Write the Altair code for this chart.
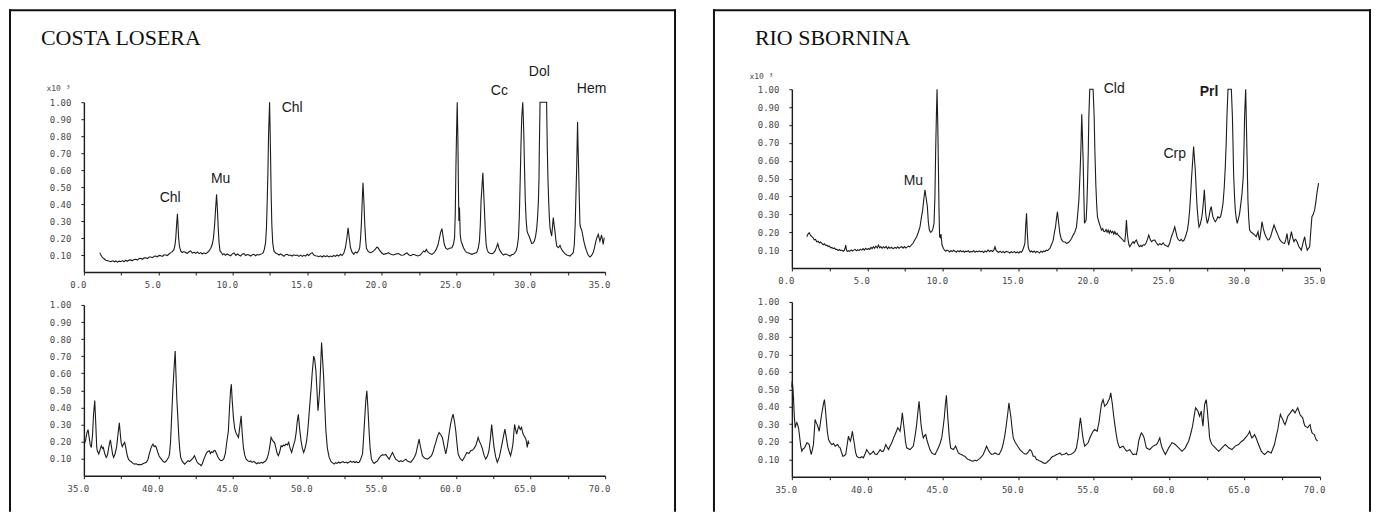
import altair as alt
import pandas as pd

PANEL_TITLES = ["COSTA LOSERA", "RIO SBORNINA"]
Y_TICKS = [0.1, 0.2, 0.3, 0.4, 0.5, 0.6, 0.7, 0.8, 0.9, 1.0]
X_TICKS_LOW = [0, 2.5, 5, 7.5, 10, 12.5, 15, 17.5, 20, 22.5, 25, 27.5, 30, 32.5, 35]
X_TICKS_HIGH = [35, 37.5, 40, 42.5, 45, 47.5, 50, 52.5, 55, 57.5, 60, 62.5, 65, 67.5, 70]
EXP_LABEL = "x10 ³"

# ---- Costa Losera, 2theta 0-35 ----
CL_TOP = [(1.07,0.114),(1.15,0.098),(1.25,0.084),(1.36,0.078),(1.47,0.069),(1.6,0.066),(1.72,0.063),(1.81,0.061),(1.95,0.066),(2.05,0.06),(2.14,0.065),(2.25,0.058),(2.36,0.064),(2.48,0.061),(2.6,0.067),(2.7,0.06),(2.81,0.069),(2.92,0.063),(3.03,0.07),(3.15,0.071),(3.26,0.066),(3.37,0.074),(3.49,0.075),(3.6,0.07),(3.71,0.079),(3.82,0.08),(3.94,0.075),(4.05,0.083),(4.16,0.084),(4.27,0.079),(4.38,0.088),(4.49,0.088),(4.6,0.084),(4.72,0.093),(4.83,0.094),(4.94,0.089),(5.05,0.098),(5.16,0.096),(5.27,0.092),(5.38,0.101),(5.5,0.10),(5.6,0.097),(5.72,0.106),(5.83,0.114),(5.95,0.12),(6.05,0.133),(6.12,0.16),(6.17,0.20),(6.22,0.27),(6.28,0.343),(6.32,0.28),(6.36,0.20),(6.42,0.15),(6.5,0.124),(6.6,0.115),(6.72,0.12),(6.84,0.114),(6.95,0.11),(7.06,0.119),(7.17,0.124),(7.28,0.112),(7.4,0.116),(7.51,0.11),(7.62,0.118),(7.73,0.108),(7.84,0.114),(7.95,0.106),(8.06,0.113),(8.18,0.108),(8.3,0.115),(8.4,0.124),(8.52,0.14),(8.62,0.163),(8.7,0.2),(8.78,0.28),(8.85,0.38),(8.91,0.457),(8.97,0.36),(9.03,0.241),(9.08,0.17),(9.14,0.124),(9.25,0.112),(9.32,0.102),(9.41,0.108),(9.5,0.098),(9.62,0.106),(9.74,0.10),(9.85,0.095),(9.97,0.107),(10.08,0.112),(10.2,0.098),(10.3,0.106),(10.41,0.10),(10.52,0.094),(10.63,0.105),(10.75,0.108),(10.86,0.097),(10.97,0.103),(11.08,0.10),(11.2,0.094),(11.31,0.101),(11.42,0.104),(11.53,0.096),(11.64,0.103),(11.75,0.10),(11.86,0.104),(11.96,0.108),(12.04,0.114),(12.12,0.135),(12.2,0.173),(12.26,0.26),(12.31,0.418),(12.36,0.6),(12.4,0.81),(12.47,1.0),(12.5,0.86),(12.53,0.71),(12.57,0.48),(12.62,0.28),(12.68,0.17),(12.76,0.124),(12.87,0.112),(12.98,0.108),(13.1,0.1),(13.2,0.106),(13.32,0.10),(13.43,0.093),(13.54,0.102),(13.65,0.104),(13.76,0.097),(13.88,0.1),(13.99,0.094),(14.1,0.101),(14.21,0.097),(14.32,0.10),(14.44,0.092),(14.55,0.099),(14.66,0.092),(14.77,0.098),(14.88,0.094),(14.99,0.104),(15.1,0.097),(15.22,0.108),(15.33,0.114),(15.44,0.1),(15.55,0.096),(15.66,0.094),(15.77,0.09),(15.88,0.095),(16.0,0.088),(16.11,0.096),(16.22,0.09),(16.33,0.096),(16.45,0.089),(16.56,0.094),(16.67,0.09),(16.78,0.097),(16.89,0.092),(17.0,0.10),(17.11,0.094),(17.23,0.104),(17.34,0.097),(17.45,0.11),(17.56,0.143),(17.66,0.2),(17.74,0.26),(17.82,0.2),(17.9,0.143),(18.0,0.118),(18.12,0.104),(18.23,0.118),(18.34,0.112),(18.45,0.125),(18.52,0.143),(18.58,0.2),(18.63,0.28),(18.69,0.42),(18.74,0.525),(18.8,0.42),(18.86,0.28),(18.92,0.19),(18.97,0.139),(19.1,0.12),(19.23,0.114),(19.35,0.118),(19.46,0.124),(19.57,0.135),(19.68,0.147),(19.77,0.14),(19.86,0.127),(20.0,0.112),(20.13,0.104),(20.3,0.108),(20.46,0.114),(20.6,0.104),(20.8,0.10),(20.95,0.106),(21.13,0.108),(21.3,0.099),(21.47,0.1),(21.58,0.107),(21.69,0.112),(21.83,0.1),(21.96,0.096),(22.1,0.104),(22.25,0.1),(22.42,0.094),(22.59,0.1),(22.7,0.112),(22.81,0.124),(22.9,0.118),(22.99,0.133),(23.07,0.12),(23.15,0.114),(23.26,0.108),(23.37,0.104),(23.5,0.112),(23.66,0.133),(23.78,0.16),(23.88,0.202),(23.96,0.235),(24.04,0.255),(24.12,0.21),(24.2,0.163),(24.3,0.14),(24.42,0.133),(24.55,0.14),(24.71,0.143),(24.82,0.165),(24.89,0.202),(24.94,0.35),(24.98,0.614),(25.03,0.85),(25.07,1.0),(25.11,0.8),(25.15,0.5),(25.18,0.3),(25.22,0.38),(25.27,0.22),(25.33,0.18),(25.4,0.165),(25.49,0.143),(25.6,0.125),(25.71,0.114),(25.88,0.11),(26.05,0.104),(26.2,0.109),(26.38,0.114),(26.48,0.14),(26.56,0.182),(26.62,0.28),(26.67,0.418),(26.73,0.5),(26.79,0.584),(26.84,0.48),(26.9,0.359),(26.95,0.25),(27.01,0.163),(27.08,0.13),(27.17,0.114),(27.28,0.11),(27.39,0.108),(27.5,0.112),(27.61,0.124),(27.7,0.145),(27.79,0.167),(27.87,0.14),(27.95,0.124),(28.06,0.11),(28.17,0.10),(28.28,0.106),(28.39,0.104),(28.5,0.098),(28.62,0.094),(28.73,0.101),(28.84,0.104),(28.93,0.112),(29.02,0.124),(29.1,0.15),(29.18,0.202),(29.24,0.33),(29.29,0.516),(29.35,0.75),(29.4,0.91),(29.47,1.0),(29.51,0.9),(29.54,0.81),(29.59,0.6),(29.64,0.418),(29.7,0.3),(29.76,0.241),(29.82,0.225),(29.89,0.212),(29.98,0.19),(30.07,0.167),(30.16,0.17),(30.25,0.182),(30.33,0.21),(30.41,0.26),(30.47,0.33),(30.52,0.418),(30.56,0.55),(30.58,0.712),(30.61,0.88),(30.63,1.0),(30.85,1.0),(31.07,1.0),(31.09,0.88),(31.12,0.712),(31.16,0.55),(31.21,0.418),(31.25,0.33),(31.3,0.26),(31.36,0.23),(31.41,0.212),(31.46,0.26),(31.52,0.32),(31.57,0.28),(31.63,0.241),(31.69,0.19),(31.75,0.153),(31.86,0.143),(31.97,0.157),(32.06,0.135),(32.15,0.124),(32.28,0.11),(32.42,0.10),(32.53,0.097),(32.64,0.094),(32.75,0.104),(32.86,0.114),(32.93,0.16),(32.99,0.28),(33.04,0.45),(33.09,0.614),(33.12,0.75),(33.15,0.884),(33.18,0.75),(33.22,0.614),(33.26,0.45),(33.31,0.28),(33.36,0.26),(33.42,0.251),(33.5,0.215),(33.57,0.182),(33.66,0.15),(33.75,0.124),(33.86,0.1),(33.98,0.088),(34.09,0.097),(34.2,0.114),(34.29,0.145),(34.38,0.182),(34.46,0.205),(34.54,0.222),(34.6,0.2),(34.65,0.182),(34.71,0.2),(34.76,0.218),(34.82,0.19),(34.87,0.163),(34.9,0.18),(34.94,0.202)]

# ---- Costa Losera, 2theta 35-70 ----
CL_BOT = [(35.05,0.19),(35.12,0.21),(35.2,0.25),(35.28,0.27),(35.36,0.22),(35.43,0.18),(35.5,0.165),(35.58,0.24),(35.65,0.36),(35.73,0.44),(35.8,0.3),(35.86,0.17),(35.9,0.146),(36.0,0.127),(36.08,0.15),(36.17,0.175),(36.25,0.16),(36.3,0.165),(36.4,0.13),(36.5,0.107),(36.58,0.12),(36.66,0.16),(36.72,0.19),(36.78,0.21),(36.85,0.17),(36.93,0.125),(37.0,0.107),(37.1,0.13),(37.2,0.17),(37.3,0.25),(37.38,0.31),(37.44,0.25),(37.5,0.195),(37.58,0.17),(37.66,0.185),(37.74,0.195),(37.82,0.16),(37.92,0.115),(38.0,0.095),(38.07,0.088),(38.2,0.08),(38.3,0.072),(38.4,0.068),(38.52,0.07),(38.62,0.064),(38.74,0.066),(38.85,0.064),(38.96,0.07),(39.08,0.074),(39.2,0.078),(39.3,0.095),(39.4,0.13),(39.5,0.16),(39.57,0.175),(39.64,0.185),(39.72,0.17),(39.79,0.175),(39.86,0.166),(39.95,0.14),(40.05,0.115),(40.2,0.097),(40.3,0.085),(40.4,0.078),(40.5,0.083),(40.6,0.095),(40.7,0.11),(40.75,0.127),(40.82,0.2),(40.9,0.36),(40.97,0.5),(41.05,0.62),(41.13,0.73),(41.18,0.6),(41.24,0.45),(41.31,0.34),(41.38,0.22),(41.44,0.15),(41.5,0.107),(41.6,0.085),(41.76,0.068),(41.9,0.08),(42.0,0.088),(42.1,0.083),(42.2,0.092),(42.3,0.1),(42.43,0.117),(42.5,0.1),(42.6,0.08),(42.7,0.07),(42.8,0.066),(42.87,0.058),(42.95,0.07),(43.05,0.095),(43.12,0.11),(43.2,0.127),(43.3,0.14),(43.43,0.146),(43.5,0.13),(43.58,0.14),(43.66,0.136),(43.75,0.148),(43.82,0.146),(43.9,0.13),(44.0,0.11),(44.1,0.095),(44.2,0.088),(44.3,0.09),(44.4,0.1),(44.5,0.13),(44.6,0.2),(44.7,0.26),(44.78,0.4),(44.85,0.5),(44.9,0.536),(44.96,0.44),(45.04,0.34),(45.12,0.28),(45.2,0.253),(45.28,0.24),(45.38,0.224),(45.46,0.28),(45.56,0.35),(45.62,0.26),(45.71,0.166),(45.8,0.12),(45.9,0.097),(46.0,0.088),(46.1,0.082),(46.2,0.086),(46.3,0.078),(46.4,0.084),(46.5,0.077),(46.6,0.07),(46.7,0.076),(46.8,0.072),(46.9,0.078),(47.0,0.074),(47.1,0.08),(47.2,0.086),(47.3,0.1),(47.4,0.13),(47.5,0.18),(47.57,0.224),(47.65,0.21),(47.72,0.2),(47.8,0.195),(47.9,0.16),(47.98,0.13),(48.06,0.117),(48.15,0.14),(48.24,0.175),(48.32,0.17),(48.4,0.18),(48.48,0.175),(48.57,0.185),(48.66,0.18),(48.75,0.195),(48.85,0.16),(48.95,0.136),(49.05,0.17),(49.17,0.205),(49.25,0.25),(49.33,0.32),(49.4,0.36),(49.48,0.28),(49.58,0.205),(49.67,0.16),(49.76,0.136),(49.85,0.16),(49.95,0.2),(50.03,0.26),(50.12,0.36),(50.2,0.45),(50.25,0.5),(50.33,0.6),(50.43,0.70),(50.5,0.68),(50.58,0.614),(50.65,0.5),(50.72,0.38),(50.77,0.43),(50.83,0.497),(50.9,0.65),(50.96,0.78),(51.03,0.68),(51.1,0.575),(51.18,0.4),(51.25,0.263),(51.35,0.16),(51.47,0.107),(51.6,0.082),(51.7,0.075),(51.8,0.068),(51.9,0.076),(52.0,0.072),(52.1,0.08),(52.2,0.074),(52.3,0.078),(52.4,0.082),(52.5,0.076),(52.6,0.08),(52.7,0.074),(52.8,0.079),(52.9,0.085),(53.0,0.078),(53.1,0.083),(53.2,0.077),(53.3,0.082),(53.4,0.076),(53.5,0.08),(53.6,0.1),(53.71,0.127),(53.78,0.22),(53.86,0.34),(53.93,0.44),(54.0,0.497),(54.07,0.4),(54.15,0.26),(54.22,0.16),(54.31,0.097),(54.4,0.08),(54.49,0.072),(54.6,0.08),(54.7,0.085),(54.8,0.1),(54.92,0.115),(55.05,0.123),(55.15,0.12),(55.27,0.125),(55.38,0.11),(55.5,0.097),(55.6,0.115),(55.72,0.136),(55.83,0.115),(55.94,0.097),(56.05,0.09),(56.17,0.082),(56.28,0.088),(56.4,0.082),(56.5,0.09),(56.62,0.097),(56.72,0.086),(56.84,0.082),(56.95,0.078),(57.05,0.09),(57.17,0.105),(57.29,0.127),(57.4,0.17),(57.51,0.214),(57.6,0.17),(57.73,0.117),(57.85,0.105),(57.95,0.1),(58.07,0.097),(58.2,0.105),(58.34,0.117),(58.45,0.14),(58.54,0.17),(58.63,0.195),(58.74,0.23),(58.85,0.253),(58.96,0.24),(59.07,0.224),(59.17,0.18),(59.3,0.127),(59.4,0.17),(59.52,0.244),(59.62,0.3),(59.72,0.34),(59.79,0.36),(59.88,0.32),(59.97,0.263),(60.05,0.19),(60.13,0.127),(60.27,0.1),(60.42,0.088),(60.56,0.11),(60.71,0.136),(60.85,0.13),(60.98,0.146),(61.1,0.15),(61.2,0.16),(61.31,0.175),(61.4,0.2),(61.47,0.224),(61.56,0.2),(61.65,0.185),(61.75,0.16),(61.87,0.12),(61.98,0.097),(62.1,0.115),(62.2,0.146),(62.3,0.22),(62.38,0.30),(62.46,0.23),(62.54,0.166),(62.65,0.11),(62.76,0.078),(62.9,0.11),(63.03,0.166),(63.15,0.22),(63.27,0.273),(63.37,0.22),(63.47,0.166),(63.56,0.14),(63.65,0.117),(63.74,0.15),(63.81,0.185),(63.87,0.25),(63.92,0.30),(63.99,0.27),(64.06,0.244),(64.13,0.27),(64.21,0.29),(64.3,0.27),(64.39,0.283),(64.47,0.25),(64.55,0.234),(64.62,0.225),(64.68,0.214),(64.73,0.19),(64.77,0.166),(64.81,0.19),(64.84,0.205),(64.87,0.19),(64.9,0.185)]

# ---- Rio Sbornina, 2theta 0-35 ----
RS_TOP = [(0.99,0.175),(1.07,0.19),(1.15,0.197),(1.24,0.182),(1.32,0.175),(1.4,0.17),(1.48,0.158),(1.57,0.16),(1.65,0.147),(1.74,0.15),(1.82,0.14),(1.9,0.145),(1.99,0.138),(2.08,0.13),(2.16,0.135),(2.24,0.126),(2.32,0.128),(2.4,0.12),(2.48,0.123),(2.57,0.113),(2.65,0.115),(2.74,0.108),(2.82,0.112),(2.9,0.104),(2.98,0.104),(3.07,0.098),(3.15,0.103),(3.23,0.097),(3.31,0.10),(3.4,0.094),(3.48,0.099),(3.53,0.112),(3.57,0.128),(3.62,0.1),(3.68,0.092),(3.75,0.097),(3.84,0.093),(3.93,0.101),(4.02,0.095),(4.1,0.1),(4.19,0.104),(4.28,0.096),(4.36,0.102),(4.45,0.097),(4.54,0.105),(4.63,0.10),(4.72,0.108),(4.8,0.1),(4.89,0.11),(4.98,0.103),(5.07,0.109),(5.16,0.104),(5.24,0.115),(5.32,0.108),(5.4,0.119),(5.48,0.11),(5.57,0.122),(5.66,0.112),(5.74,0.128),(5.82,0.113),(5.9,0.12),(5.98,0.11),(6.07,0.119),(6.16,0.112),(6.25,0.121),(6.34,0.108),(6.42,0.118),(6.5,0.11),(6.6,0.116),(6.7,0.108),(6.84,0.115),(6.93,0.11),(7.02,0.118),(7.1,0.11),(7.19,0.116),(7.28,0.119),(7.37,0.111),(7.46,0.12),(7.55,0.112),(7.63,0.117),(7.72,0.122),(7.82,0.118),(7.93,0.13),(8.05,0.141),(8.16,0.16),(8.27,0.175),(8.38,0.2),(8.49,0.23),(8.58,0.28),(8.67,0.325),(8.75,0.39),(8.82,0.437),(8.9,0.39),(8.98,0.343),(9.04,0.26),(9.11,0.212),(9.19,0.2),(9.27,0.203),(9.35,0.22),(9.42,0.25),(9.48,0.4),(9.53,0.66),(9.58,0.86),(9.62,1.0),(9.67,0.8),(9.71,0.57),(9.75,0.33),(9.79,0.175),(9.84,0.17),(9.88,0.19),(9.95,0.13),(10.04,0.109),(10.12,0.1),(10.2,0.094),(10.28,0.1),(10.37,0.096),(10.46,0.09),(10.55,0.098),(10.63,0.092),(10.72,0.099),(10.81,0.094),(10.9,0.088),(10.99,0.097),(11.08,0.091),(11.17,0.098),(11.26,0.09),(11.35,0.095),(11.44,0.088),(11.52,0.094),(11.6,0.091),(11.69,0.096),(11.78,0.088),(11.87,0.093),(11.96,0.09),(12.05,0.097),(12.14,0.088),(12.23,0.094),(12.32,0.09),(12.41,0.096),(12.5,0.09),(12.6,0.094),(12.7,0.087),(12.8,0.095),(12.9,0.09),(13.0,0.10),(13.1,0.092),(13.2,0.098),(13.3,0.092),(13.38,0.1),(13.46,0.119),(13.54,0.097),(13.62,0.092),(13.7,0.087),(13.8,0.094),(13.9,0.086),(14.0,0.092),(14.1,0.085),(14.2,0.093),(14.34,0.09),(14.44,0.084),(14.54,0.091),(14.64,0.086),(14.74,0.093),(14.84,0.085),(14.94,0.09),(15.04,0.084),(15.13,0.092),(15.22,0.088),(15.3,0.1),(15.38,0.12),(15.44,0.137),(15.5,0.24),(15.55,0.306),(15.6,0.2),(15.66,0.119),(15.72,0.1),(15.8,0.09),(15.88,0.095),(15.97,0.088),(16.06,0.095),(16.15,0.086),(16.24,0.093),(16.32,0.09),(16.41,0.084),(16.5,0.094),(16.59,0.088),(16.68,0.095),(16.77,0.092),(16.86,0.1),(16.95,0.097),(17.02,0.104),(17.1,0.109),(17.2,0.13),(17.32,0.156),(17.4,0.2),(17.47,0.23),(17.54,0.28),(17.6,0.315),(17.68,0.25),(17.76,0.193),(17.86,0.16),(17.98,0.147),(18.1,0.145),(18.2,0.138),(18.31,0.141),(18.42,0.15),(18.53,0.165),(18.64,0.184),(18.75,0.2),(18.86,0.23),(18.94,0.3),(19.02,0.38),(19.09,0.52),(19.15,0.66),(19.21,0.86),(19.26,0.72),(19.3,0.605),(19.35,0.4),(19.39,0.25),(19.45,0.26),(19.5,0.27),(19.55,0.36),(19.59,0.47),(19.64,0.65),(19.68,0.85),(19.74,1.0),(19.85,1.0),(19.96,1.0),(20.03,0.85),(20.08,0.65),(20.14,0.47),(20.2,0.35),(20.25,0.287),(20.33,0.26),(20.41,0.24),(20.52,0.212),(20.6,0.22),(20.67,0.205),(20.74,0.203),(20.82,0.215),(20.89,0.2),(20.96,0.212),(21.03,0.195),(21.1,0.21),(21.18,0.197),(21.26,0.205),(21.33,0.19),(21.4,0.203),(21.48,0.188),(21.55,0.195),(21.62,0.184),(21.7,0.178),(21.77,0.17),(21.84,0.166),(21.92,0.158),(21.99,0.15),(22.06,0.147),(22.12,0.2),(22.17,0.269),(22.22,0.2),(22.28,0.156),(22.34,0.13),(22.39,0.119),(22.47,0.13),(22.54,0.14),(22.61,0.147),(22.68,0.138),(22.76,0.15),(22.83,0.156),(22.9,0.14),(22.98,0.125),(23.05,0.119),(23.13,0.127),(23.2,0.12),(23.28,0.13),(23.38,0.128),(23.47,0.14),(23.56,0.16),(23.65,0.184),(23.74,0.16),(23.83,0.147),(23.94,0.155),(24.05,0.156),(24.16,0.14),(24.27,0.128),(24.38,0.136),(24.49,0.13),(24.6,0.141),(24.71,0.128),(24.82,0.124),(24.93,0.119),(25.04,0.14),(25.15,0.175),(25.26,0.2),(25.37,0.23),(25.45,0.2),(25.52,0.175),(25.6,0.16),(25.7,0.152),(25.8,0.16),(25.9,0.15),(25.99,0.156),(26.1,0.18),(26.21,0.212),(26.29,0.26),(26.36,0.325),(26.43,0.42),(26.49,0.512),(26.56,0.6),(26.62,0.68),(26.67,0.62),(26.73,0.55),(26.79,0.44),(26.85,0.343),(26.92,0.27),(26.98,0.23),(27.06,0.245),(27.13,0.27),(27.19,0.3),(27.24,0.343),(27.29,0.39),(27.33,0.437),(27.38,0.37),(27.42,0.306),(27.48,0.27),(27.53,0.25),(27.6,0.27),(27.68,0.306),(27.74,0.33),(27.79,0.343),(27.85,0.31),(27.9,0.287),(27.98,0.27),(28.06,0.259),(28.14,0.27),(28.23,0.287),(28.32,0.28),(28.41,0.287),(28.49,0.32),(28.57,0.362),(28.65,0.45),(28.72,0.568),(28.78,0.7),(28.83,0.85),(28.9,1.0),(29.01,1.0),(29.12,1.0),(29.19,0.85),(29.23,0.7),(29.27,0.53),(29.32,0.42),(29.38,0.325),(29.44,0.28),(29.51,0.25),(29.59,0.275),(29.67,0.306),(29.75,0.36),(29.83,0.418),(29.91,0.512),(29.96,0.68),(30.0,0.85),(30.07,1.0),(30.1,0.88),(30.13,0.755),(30.18,0.55),(30.22,0.38),(30.27,0.28),(30.33,0.212),(30.44,0.2),(30.55,0.193),(30.66,0.185),(30.77,0.175),(30.83,0.19),(30.89,0.203),(30.94,0.175),(30.99,0.156),(31.07,0.2),(31.15,0.259),(31.24,0.22),(31.33,0.193),(31.44,0.17),(31.55,0.156),(31.63,0.16),(31.72,0.175),(31.84,0.21),(31.95,0.24),(32.08,0.21),(32.21,0.184),(32.32,0.16),(32.43,0.147),(32.54,0.14),(32.65,0.138),(32.73,0.16),(32.81,0.193),(32.87,0.15),(32.92,0.128),(33.0,0.16),(33.1,0.203),(33.18,0.17),(33.27,0.147),(33.35,0.16),(33.42,0.156),(33.51,0.14),(33.6,0.119),(33.68,0.11),(33.76,0.10),(33.87,0.14),(33.98,0.175),(34.06,0.13),(34.15,0.10),(34.23,0.11),(34.31,0.119),(34.38,0.2),(34.46,0.287),(34.55,0.3),(34.64,0.325),(34.72,0.37),(34.79,0.418),(34.85,0.45),(34.9,0.475)]

# ---- Rio Sbornina, 2theta 35-70 ----
RS_BOT = [(35.0,0.51),(35.02,0.546),(35.06,0.52),(35.11,0.45),(35.16,0.35),(35.22,0.28),(35.28,0.3),(35.33,0.31),(35.39,0.295),(35.44,0.28),(35.5,0.24),(35.55,0.203),(35.6,0.17),(35.66,0.146),(35.75,0.16),(35.84,0.165),(35.92,0.18),(36.0,0.194),(36.08,0.19),(36.15,0.184),(36.22,0.15),(36.28,0.127),(36.35,0.15),(36.43,0.184),(36.49,0.26),(36.54,0.327),(36.61,0.31),(36.68,0.298),(36.75,0.28),(36.81,0.26),(36.88,0.3),(36.94,0.337),(37.0,0.37),(37.05,0.394),(37.1,0.42),(37.16,0.441),(37.22,0.39),(37.27,0.337),(37.35,0.26),(37.43,0.213),(37.54,0.195),(37.65,0.184),(37.76,0.19),(37.87,0.175),(37.95,0.18),(38.04,0.184),(38.12,0.17),(38.2,0.165),(38.29,0.14),(38.38,0.117),(38.47,0.12),(38.57,0.127),(38.66,0.18),(38.75,0.232),(38.81,0.215),(38.88,0.203),(38.95,0.23),(39.01,0.26),(39.08,0.22),(39.15,0.184),(39.22,0.14),(39.3,0.117),(39.41,0.11),(39.52,0.108),(39.63,0.115),(39.74,0.108),(39.85,0.13),(39.96,0.155),(40.07,0.14),(40.18,0.127),(40.29,0.135),(40.4,0.146),(40.51,0.13),(40.63,0.127),(40.74,0.14),(40.85,0.155),(40.96,0.145),(41.07,0.146),(41.15,0.165),(41.22,0.184),(41.31,0.17),(41.4,0.155),(41.51,0.175),(41.62,0.194),(41.73,0.22),(41.84,0.241),(41.93,0.26),(42.02,0.28),(42.1,0.27),(42.17,0.26),(42.25,0.31),(42.32,0.365),(42.39,0.31),(42.46,0.26),(42.53,0.2),(42.61,0.165),(42.72,0.16),(42.83,0.155),(42.94,0.165),(43.05,0.175),(43.16,0.23),(43.27,0.298),(43.35,0.37),(43.43,0.432),(43.5,0.36),(43.56,0.298),(43.64,0.25),(43.71,0.222),(43.79,0.235),(43.87,0.241),(43.95,0.21),(44.04,0.184),(44.15,0.155),(44.27,0.136),(44.38,0.13),(44.49,0.127),(44.6,0.145),(44.71,0.165),(44.82,0.19),(44.93,0.222),(45.02,0.28),(45.1,0.337),(45.17,0.41),(45.24,0.466),(45.3,0.38),(45.37,0.298),(45.44,0.22),(45.52,0.165),(45.61,0.16),(45.7,0.155),(45.78,0.165),(45.85,0.175),(45.94,0.155),(46.03,0.136),(46.14,0.13),(46.25,0.127),(46.36,0.12),(46.47,0.117),(46.58,0.105),(46.69,0.098),(46.8,0.095),(46.91,0.09),(47.02,0.089),(47.13,0.095),(47.24,0.09),(47.35,0.098),(47.46,0.105),(47.57,0.115),(47.68,0.127),(47.79,0.15),(47.9,0.175),(47.98,0.16),(48.06,0.146),(48.15,0.135),(48.24,0.127),(48.35,0.13),(48.46,0.136),(48.59,0.13),(48.72,0.127),(48.81,0.14),(48.9,0.155),(49.01,0.19),(49.12,0.241),(49.2,0.29),(49.27,0.337),(49.33,0.38),(49.38,0.422),(49.45,0.38),(49.52,0.337),(49.6,0.27),(49.67,0.222),(49.78,0.2),(49.89,0.184),(50.0,0.17),(50.11,0.155),(50.22,0.145),(50.33,0.136),(50.44,0.13),(50.55,0.13),(50.66,0.14),(50.77,0.155),(50.88,0.146),(50.99,0.117),(51.1,0.117),(51.21,0.098),(51.32,0.095),(51.43,0.089),(51.55,0.085),(51.66,0.079),(51.77,0.076),(51.88,0.08),(51.99,0.09),(52.1,0.098),(52.2,0.11),(52.31,0.117),(52.42,0.12),(52.53,0.127),(52.64,0.13),(52.76,0.136),(52.87,0.125),(52.98,0.127),(53.09,0.13),(53.2,0.136),(53.31,0.125),(53.42,0.127),(53.53,0.13),(53.64,0.136),(53.75,0.145),(53.86,0.165),(53.92,0.2),(53.97,0.222),(54.05,0.29),(54.12,0.337),(54.19,0.29),(54.26,0.241),(54.33,0.2),(54.41,0.175),(54.52,0.185),(54.63,0.194),(54.74,0.22),(54.85,0.241),(54.96,0.26),(55.07,0.27),(55.15,0.265),(55.23,0.26),(55.3,0.29),(55.36,0.317),(55.44,0.37),(55.51,0.413),(55.57,0.43),(55.62,0.441),(55.68,0.42),(55.73,0.403),(55.79,0.41),(55.84,0.413),(55.9,0.42),(55.95,0.432),(56.01,0.44),(56.06,0.451),(56.13,0.48),(56.18,0.45),(56.24,0.413),(56.32,0.35),(56.4,0.298),(56.48,0.25),(56.57,0.203),(56.65,0.18),(56.73,0.165),(56.84,0.17),(56.95,0.175),(57.06,0.16),(57.17,0.146),(57.28,0.15),(57.39,0.155),(57.5,0.14),(57.61,0.127),(57.72,0.13),(57.83,0.127),(57.91,0.16),(57.98,0.203),(58.07,0.23),(58.16,0.251),(58.25,0.24),(58.34,0.222),(58.42,0.19),(58.49,0.165),(58.6,0.16),(58.71,0.155),(58.82,0.165),(58.94,0.175),(59.05,0.18),(59.16,0.184),(59.27,0.2),(59.38,0.222),(59.45,0.19),(59.53,0.165),(59.64,0.145),(59.75,0.127),(59.86,0.145),(59.97,0.165),(60.08,0.18),(60.19,0.194),(60.3,0.19),(60.41,0.184),(60.52,0.175),(60.63,0.165),(60.74,0.155),(60.85,0.146),(60.96,0.155),(61.07,0.165),(61.18,0.185),(61.29,0.203),(61.38,0.23),(61.47,0.26),(61.55,0.29),(61.62,0.327),(61.68,0.36),(61.75,0.394),(61.83,0.385),(61.91,0.375),(61.96,0.36),(62.02,0.346),(62.07,0.36),(62.13,0.375),(62.18,0.33),(62.24,0.289),(62.3,0.36),(62.35,0.413),(62.41,0.43),(62.46,0.441),(62.52,0.39),(62.57,0.337),(62.63,0.28),(62.68,0.222),(62.76,0.2),(62.84,0.184),(62.95,0.175),(63.06,0.165),(63.17,0.155),(63.28,0.146),(63.39,0.155),(63.5,0.165),(63.61,0.175),(63.72,0.184),(63.83,0.175),(63.94,0.165),(64.05,0.16),(64.16,0.155),(64.27,0.165),(64.38,0.175),(64.49,0.18),(64.6,0.184),(64.71,0.195),(64.82,0.203),(64.93,0.21),(65.04,0.222),(65.13,0.23),(65.22,0.241),(65.28,0.25),(65.33,0.26),(65.4,0.24),(65.48,0.222),(65.57,0.23),(65.66,0.241),(65.77,0.22),(65.88,0.194),(65.99,0.17),(66.1,0.146),(66.21,0.135),(66.32,0.127),(66.43,0.135),(66.54,0.146),(66.65,0.14),(66.76,0.136),(66.87,0.16),(66.98,0.184),(67.09,0.23),(67.2,0.27),(67.29,0.32),(67.37,0.356),(67.45,0.34),(67.53,0.327),(67.6,0.31),(67.68,0.298),(67.77,0.32),(67.86,0.346),(67.94,0.355),(68.03,0.365),(68.11,0.375),(68.19,0.384),(68.26,0.375),(68.34,0.365),(68.43,0.38),(68.52,0.394),(68.6,0.375),(68.67,0.356),(68.76,0.345),(68.85,0.337),(68.92,0.31),(69.0,0.289),(69.09,0.285),(69.18,0.28),(69.26,0.29),(69.34,0.298),(69.4,0.27),(69.47,0.251),(69.55,0.245),(69.62,0.241),(69.68,0.225),(69.73,0.213),(69.79,0.208),(69.84,0.203)]

# ---- mineral peak labels (2theta, intensity) ----
CL_LABELS = ["Chl", "Mu", "Chl", "Cc", "Dol", "Hem"]
CL_LABEL_T = [5.79, 9.18, 13.99, 27.9, 30.58, 34.09]
CL_LABEL_V = [0.433, 0.545, 0.967, 1.069, 1.178, 1.075]
CL_LABEL_BOLD = [False, False, False, False, False, False]

RS_LABELS = ["Mu", "Cld", "Crp", "Prl"]
RS_LABEL_T = [8.05, 21.36, 25.37, 27.64]
RS_LABEL_V = [0.484, 1.003, 0.639, 0.984]
RS_LABEL_BOLD = [False, False, False, True]

INK = "#1c1c1c"
AXIS_FONT = "DejaVu Sans Mono"


def series_df(pairs):
    return pd.DataFrame(pairs, columns=["t", "v"])


def plot(pairs, xdom, xticks, w, h, labels=None, exp_pos=None):
    xs = alt.Scale(domain=xdom, nice=False, zero=False)
    ys = alt.Scale(domain=[0, 1], nice=False)
    y_axis_kw = dict(values=Y_TICKS, format=".2f", labelFont=AXIS_FONT, labelFontSize=9,
                     labelColor="#4a4a4a", tickSize=3, tickColor=INK, domainColor=INK,
                     domainWidth=1.4, labelPadding=10, grid=False, labelOverlap=False)
    if exp_pos is not None:
        y_axis_kw.update(title=EXP_LABEL, titleAngle=0, titleX=exp_pos[0], titleY=exp_pos[1],
                         titleAlign="left", titleBaseline="middle", titleFont=AXIS_FONT,
                         titleFontSize=8, titleFontWeight="normal", titleColor="#4a4a4a")
    else:
        y_axis_kw.update(title="")
    y_axis = alt.Axis(**y_axis_kw)
    x_axis = alt.Axis(values=xticks, labelExpr="datum.value % 5 === 0 ? format(datum.value, '.1f') : ''",
                      labelFont=AXIS_FONT, labelFontSize=9, labelColor="#4a4a4a", tickSize=3,
                      tickColor=INK, domainColor=INK, domainWidth=1.4, labelPadding=6,
                      labelOffset=-6, grid=False, title="", labelFlush=False, labelOverlap=False)
    line = alt.Chart(series_df(pairs)).mark_line(color=INK, strokeWidth=1.1).encode(
        x=alt.X("t:Q", scale=xs, axis=x_axis),
        y=alt.Y("v:Q", scale=ys, axis=y_axis),
    )
    layers = [line]
    if labels is not None:
        names, ts, vs, bold = labels
        ldf = pd.DataFrame({"name": names, "t": ts, "v": vs, "bold": bold})
        for is_bold in (False, True):
            sub = ldf[ldf["bold"] == is_bold]
            if len(sub) == 0:
                continue
            layers.append(
                alt.Chart(sub).mark_text(font="Liberation Sans", fontSize=14, color=INK,
                                         fontWeight="bold" if is_bold else "normal",
                                         baseline="middle", align="center").encode(
                    x=alt.X("t:Q", scale=xs, axis=x_axis),
                    y=alt.Y("v:Q", scale=ys, axis=y_axis),
                    text="name:N")
            )
    return alt.layer(*layers).properties(width=w, height=h)


def header(name, w, h, tx, ty, fx0, fx1, fy1):
    base = alt.Chart(pd.DataFrame({"name": [name]}))
    frame_kw = dict(color="#111111", strokeWidth=2)
    left = base.mark_rule(**frame_kw).encode(x=alt.value(fx0), y=alt.value(0), y2=alt.value(fy1))
    right = base.mark_rule(**frame_kw).encode(x=alt.value(fx1), y=alt.value(0), y2=alt.value(fy1))
    top = base.mark_rule(**frame_kw).encode(x=alt.value(fx0 - 1), x2=alt.value(fx1 + 1), y=alt.value(1))
    txt = base.mark_text(font="Liberation Serif", fontSize=22, align="left",
                         baseline="alphabetic", color="#111111").encode(
        x=alt.value(tx), y=alt.value(ty), text="name:N")
    return alt.layer(left, right, top, txt).properties(width=w, height=h)


left_panel = alt.vconcat(
    header(PANEL_TITLES[0], 522, 60, -43, 36, -74, 592, 503),
    plot(CL_TOP, [0, 35], X_TICKS_LOW, 522, 170,
         labels=(CL_LABELS, CL_LABEL_T, CL_LABEL_V, CL_LABEL_BOLD), exp_pos=(-38, -14)),
    plot(CL_BOT, [35, 70], X_TICKS_HIGH, 522, 171),
    spacing=33, bounds="flush",
)

right_panel = alt.vconcat(
    header(PANEL_TITLES[1], 529, 46, -37, 36, -78, 579, 503),
    plot(RS_TOP, [0, 35], X_TICKS_LOW, 529, 179,
         labels=(RS_LABELS, RS_LABEL_T, RS_LABEL_V, RS_LABEL_BOLD), exp_pos=(-43, -13)),
    plot(RS_BOT, [35, 70], X_TICKS_HIGH, 529, 175),
    spacing=34, bounds="flush",
)

chart = alt.hconcat(left_panel, right_panel, spacing=35, padding=0,
                    background="white").configure_view(strokeWidth=0)

chart.save("out.html", embed_options={"renderer": "svg", "actions": False})
